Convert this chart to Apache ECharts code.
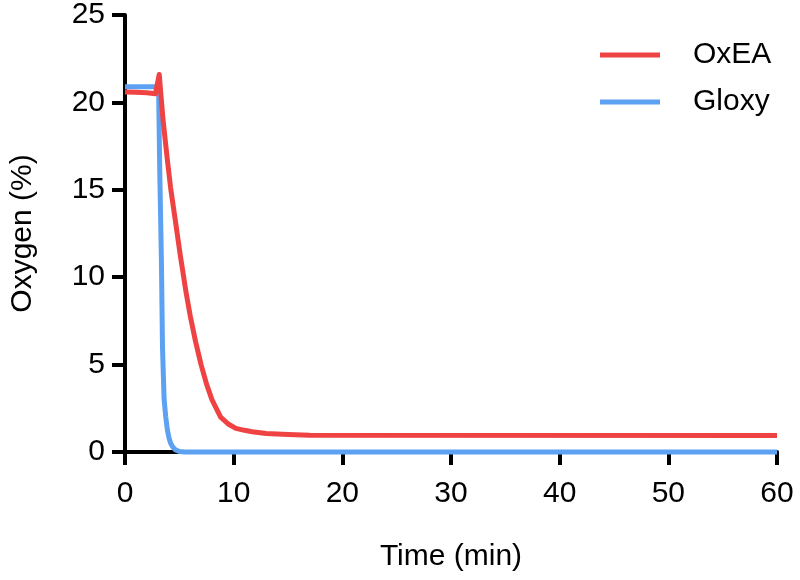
<!DOCTYPE html>
<html>
<head>
<meta charset="utf-8">
<script src="https://cdn.jsdelivr.net/npm/echarts@6/dist/echarts.min.js"></script>
<style>html,body{margin:0;padding:0;background:#fff}#c{width:800px;height:580px}</style>
</head>
<body>
<div id="c"></div>
<script>
var seriesNames = ['OxEA', 'Gloxy'];
var oxeaTime = [0, 1, 2, 2.8, 3.15, 3.5, 3.9, 4.2, 4.55, 5.1, 5.6, 6.0, 6.5, 7.0, 7.5, 8.0, 8.8, 9.5, 10.2, 11.0, 11.7, 13, 15, 17, 60];
var oxeaValue = [20.6, 20.58, 20.55, 20.5, 21.6, 19.0, 16.7, 15.1, 13.6, 11.2, 9.2, 7.8, 6.3, 5.0, 3.9, 3.0, 2.0, 1.6, 1.35, 1.24, 1.16, 1.06, 1.0, 0.96, 0.95];
var gloxyTime = [0, 1, 2, 3.0, 3.1, 3.2, 3.35, 3.45, 3.6, 3.75, 3.9, 4.05, 4.2, 4.4, 4.65, 5.0, 5.5, 60];
var gloxyValue = [20.9, 20.9, 20.9, 20.9, 20.5, 16.0, 11.0, 6.0, 3.0, 2.0, 1.26, 0.8, 0.5, 0.28, 0.12, 0.03, 0, 0];
var xTicks = [0, 10, 20, 30, 40, 50, 60];
var yTicks = [0, 5, 10, 15, 20, 25];

function pairs(t, v) { return t.map(function (x, i) { return [x, v[i]]; }); }

var font = 'Liberation Sans, Arial, Helvetica, sans-serif';
var axisLine = { show: true, lineStyle: { color: '#000', width: 4 } };
var chart = echarts.init(document.getElementById('c'), null, { renderer: 'canvas' });
chart.setOption({
  animation: false,
  backgroundColor: '#fff',
  grid: { left: 121, right: 23, top: 14.5, bottom: 128, containLabel: false },
  legend: {
    orient: 'vertical', left: 595, top: 35,
    itemWidth: 60, itemHeight: 5, itemGap: 17, icon: 'rect',
    data: seriesNames,
    textStyle: { fontFamily: font, fontSize: 30, color: '#000', padding: [0, 0, 0, 28], lineHeight: 30 }
  },
  xAxis: {
    type: 'value', min: xTicks[0], max: xTicks[xTicks.length - 1], interval: 10,
    name: 'Time (min)', nameLocation: 'middle', nameGap: 90,
    nameTextStyle: { fontFamily: font, fontSize: 30, color: '#000' },
    axisLine: axisLine,
    axisTick: { show: true, length: 13, lineStyle: { color: '#000', width: 4 } },
    axisLabel: { margin: 27, fontFamily: font, fontSize: 30, color: '#000' },
    splitLine: { show: false }
  },
  yAxis: {
    type: 'value', min: yTicks[0], max: yTicks[yTicks.length - 1], interval: 5,
    name: 'Oxygen (%)', nameLocation: 'middle', nameGap: 87, nameRotate: 90,
    nameTextStyle: { fontFamily: font, fontSize: 30, color: '#000' },
    axisLine: axisLine,
    axisTick: { show: true, length: 13, lineStyle: { color: '#000', width: 4 } },
    axisLabel: { margin: 20, fontFamily: font, fontSize: 30, color: '#000' },
    splitLine: { show: false }
  },
  series: [
    {
      name: seriesNames[0], type: 'line', data: pairs(oxeaTime, oxeaValue),
      showSymbol: false, symbol: 'none', clip: false, z: 3,
      itemStyle: { color: '#EF4343' },
      lineStyle: { color: '#EF4343', width: 5, join: 'round' }
    },
    {
      name: seriesNames[1], type: 'line', data: pairs(gloxyTime, gloxyValue),
      showSymbol: false, symbol: 'none', clip: false, z: 2,
      itemStyle: { color: '#5DA2F2' },
      lineStyle: { color: '#5DA2F2', width: 5, join: 'round' }
    }
  ]
});
</script>
</body>
</html>
